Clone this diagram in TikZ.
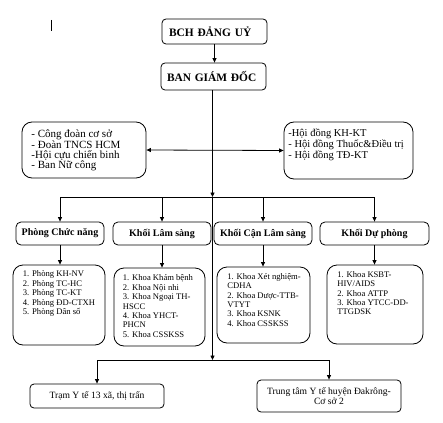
\documentclass[tikz,border=0pt]{standalone}
\usepackage{fontspec}
\setmainfont{Liberation Serif}
\usetikzlibrary{arrows.meta, calc}
\tikzset{
  every picture/.style={line width=0.8pt},
  box/.style={draw, rounded corners=#1, inner sep=0pt},
  box/.default=4pt,
  head/.style={font=\bfseries\fontsize{10}{12}\selectfont},
  toptext/.style={font=\bfseries\fontsize{11.4}{13}\selectfont, align=left, inner ysep=0pt},
  grouptext/.style={font=\fontsize{11}{#1}\selectfont, align=left, inner sep=0pt, anchor=north west},
  grouptext/.default=10,
  itemtext/.style={font=\fontsize{8.6}{9.4}\selectfont, align=left, inner sep=0pt, anchor=north west},
  unittext/.style={font=\fontsize{9.6}{10}\selectfont, align=center},
  arrow/.style={-{Triangle[length=4.5pt, width=4pt]}},
  twoway/.style={{Triangle[length=4.5pt, width=4pt]}-{Triangle[length=4.5pt, width=4pt]}},
}
\begin{document}
\begin{tikzpicture}[x=1pt, y=-1pt]
  \useasboundingbox (0,0) rectangle (443,422);
  \draw[line width=0.6pt] (51,20) -- (51,31);
  % leadership
  \node[box, toptext, minimum height=25, inner xsep=7pt, text width=91pt] (bch) at (214.5,31.5) {BCH ĐẢNG UỶ};
  \node[box, toptext, minimum height=27, inner xsep=6pt, text width=93pt] (bgd) at (213.5,76.5) {BAN GIÁM ĐỐC};
  % side groups
  \node[box=10pt, minimum width=124, minimum height=56] (doan) at (84,150) {};
  \node[grouptext] (doant) at (31,129) {- Công đoàn cơ sở\\- Đoàn TNCS HCM\\-Hội cựu chiến binh\\- Ban Nữ công};
  \node[box=10pt, minimum width=129, minimum height=57] (hoi) at (348.5,150.5) {};
  \node[grouptext=10.9, font=\fontsize{10.5}{10.9}\selectfont] (hoit) at (288,128.5) {-Hội đồng KH-KT\\- Hội đồng Thuốc\&Điều trị\\- Hội đồng TĐ-KT};
  % blocks
  \node[box=5pt, head, minimum width=88, minimum height=23] (pcn) at (60,233.5) {Phòng Chức năng};
  \node[box=5pt, head, minimum width=98, minimum height=23] (kls) at (162,233.5) {Khối Lâm sàng};
  \node[box=5pt, head, minimum width=98, minimum height=23] (kcls) at (263,233.5) {Khối Cận Lâm sàng};
  \node[box=5pt, head, minimum width=109, minimum height=23] (kdp) at (374.5,233.5) {Khối Dự phòng};
  % lists
  \node[box=10pt, minimum width=92, minimum height=80] (lpcn) at (59,305) {};
  \node[itemtext] (lpcnt) at (22.5,270.5) {1. Phòng KH-NV\\2. Phòng TC-HC\\3. Phòng TC-KT\\4. Phòng ĐD-CTXH\\5. Phòng Dân số};
  \node[box=10pt, minimum width=91, minimum height=78] (lkls) at (159.5,307) {};
  \node[itemtext] (lklst) at (122.5,274.5) {1. Khoa Khám bệnh\\2. Khoa Nội nhi\\3. Khoa Ngoại TH-\\HSCC\\4. Khoa YHCT-\\PHCN\\5. Khoa CSSKSS};
  \node[box=10pt, minimum width=93, minimum height=76] (lkcls) at (263.5,305) {};
  \node[itemtext] (lkclst) at (227,273) {1. Khoa Xét nghiệm-\\CDHA\\2. Khoa Dược-TTB-\\VTYT\\3. Khoa KSNK\\4. Khoa CSSKSS};
  \node[box=10pt, minimum width=96, minimum height=79] (lkdp) at (375,304.5) {};
  \node[itemtext] (lkdpt) at (337,271) {1. Khoa KSBT-\\HIV/AIDS\\2. Khoa ATTP\\3. Khoa YTCC-DD-\\TTGDSK};
  % bottom units
  \node[box, unittext, minimum width=134, minimum height=24] (tram) at (97,396) {Trạm Y tế 13 xã, thị trấn};
  \node[box, unittext, minimum width=144, minimum height=32] (ttyt) at (329,396) {Trung tâm Y tế huyện Đakrông-\\Cơ sở 2};
  % connectors
  \coordinate (hub) at (212.5,197);
  \coordinate (low) at (212.5,360);
  \draw[arrow] (bch.south) -- (bch.south |- bgd.north);
  \draw[arrow] (bgd.south -| hub) -- (hub);
  \draw[twoway] (doan.east) -- (hoi.west);
  \draw[arrow] (hub) -- (low);
  \foreach \n in {pcn,kls,kcls,kdp} \draw[arrow] (hub) -| (\n.north);
  \foreach \n/\m in {pcn/lpcn,kls/lkls,kcls/lkcls,kdp/lkdp} \draw[arrow] (\n.south) -- (\n.south |- \m.north);
  \foreach \n in {tram,ttyt} \draw[arrow] (low) -| (\n.north);
\end{tikzpicture}
\end{document}
